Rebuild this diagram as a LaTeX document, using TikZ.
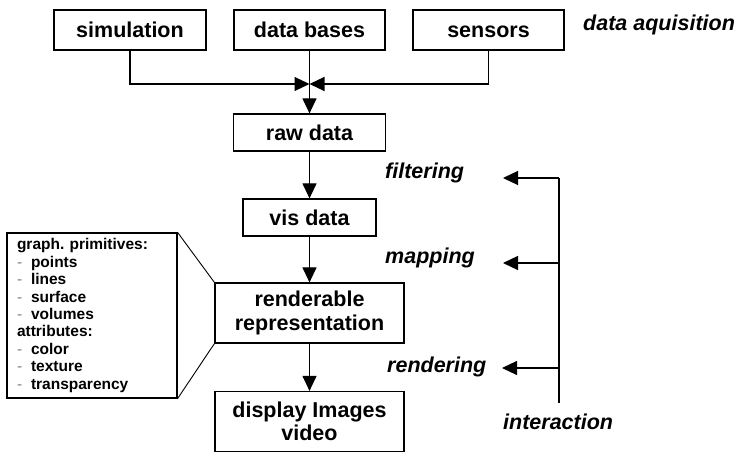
\documentclass[tikz,border=0pt]{standalone}
\usepackage{fontspec}
\setmainfont{Liberation Sans}
\usetikzlibrary{arrows.meta}
\frenchspacing
\begin{document}
\begin{tikzpicture}[x=1pt,y=-1pt,
  box/.style={draw, line width=1.2pt, inner sep=0pt, align=center,
    font=\fontsize{21.5}{23.5}\selectfont\bfseries},
  oneline/.style={text height=15.5pt, text depth=0pt},
  lbl/.style={inner sep=0pt, anchor=west,
    font=\fontsize{21.5}{23.5}\selectfont\bfseries\itshape},
  arr/.style={line width=1.2pt, -{Triangle[length=15pt,width=14pt]}},
  conn/.style={line width=0.9pt}]
\useasboundingbox (0,0) rectangle (742,454);

% sources
\node[box, oneline, minimum width=152, minimum height=40] (sim) at (130,30) {simulation};
\node[box, oneline, minimum width=151, minimum height=40] (db)  at (309.5,30) {data bases};
\node[box, oneline, minimum width=151, minimum height=40] (sen) at (488.5,30) {sensors};
\node[lbl] (acq) at (583,25) {data aquisition};

% pipeline
\node[box, oneline, minimum width=152, minimum height=37] (raw)  at (309.5,132.5) {raw data};
\node[box, oneline, minimum width=133, minimum height=37] (vis)  at (309.5,217.5) {vis data};
\node[box, minimum width=189, minimum height=60] (rend) at (309.5,313) {renderable\\representation};
\node[box, minimum width=189, minimum height=60] (disp) at (309.5,421.5) {display Images\\video};

% merging of the sources
\coordinate (merge) at (309.5,84);
\draw[arr] (sim.south) |- (merge);
\draw[arr] (sen.south) |- (merge);
\draw[arr] (db.south) -- (raw.north);

\draw[arr] (raw.south) -- (vis.north);
\draw[arr] (vis.south) -- (rend.north);
\draw[arr] (rend.south) -- (disp.north);

% step labels
\node[lbl] (filt) at (385,173) {filtering};
\node[lbl] (mapp) at (385,258) {mapping};
\node[lbl] (rndr) at (387,367) {rendering};
\node[lbl] (inter) at (503,422) {interaction};

% interaction feedback
\coordinate (itop) at (559,178);
\coordinate (imid) at (559,263);
\coordinate (ilow) at (559,368);
\coordinate (ibot) at (559,403);
\coordinate (ftip) at (503,178);
\coordinate (mtip) at (503,263);
\coordinate (rtip) at (502,368);
\draw[line width=1.2pt] (itop) -- (ibot);
\draw[arr] (itop) -- (ftip);
\draw[arr] (imid) -- (mtip);
\draw[arr] (ilow) -- (rtip);

% primitives and attributes
\newcommand{\dashitem}[1]{\makebox[14pt][l]{\textcolor{gray}{\mdseries -}}#1}
\node[draw, line width=1.2pt, minimum width=170, minimum height=165,
      text width=150pt, inner sep=0pt, align=left,
      font=\fontsize{15.5}{17.4}\selectfont\bfseries] (prim) at (92,315.5)
  {graph. primitives:\\
   \dashitem{points}\\
   \dashitem{lines}\\
   \dashitem{surface}\\
   \dashitem{volumes}\\
   attributes:\\
   \dashitem{color}\\
   \dashitem{texture}\\
   \dashitem{transparency}};
\draw[conn] (prim.north east) -- (rend.north west);
\draw[conn] (prim.south east) -- (rend.south west);
\end{tikzpicture}
\end{document}
